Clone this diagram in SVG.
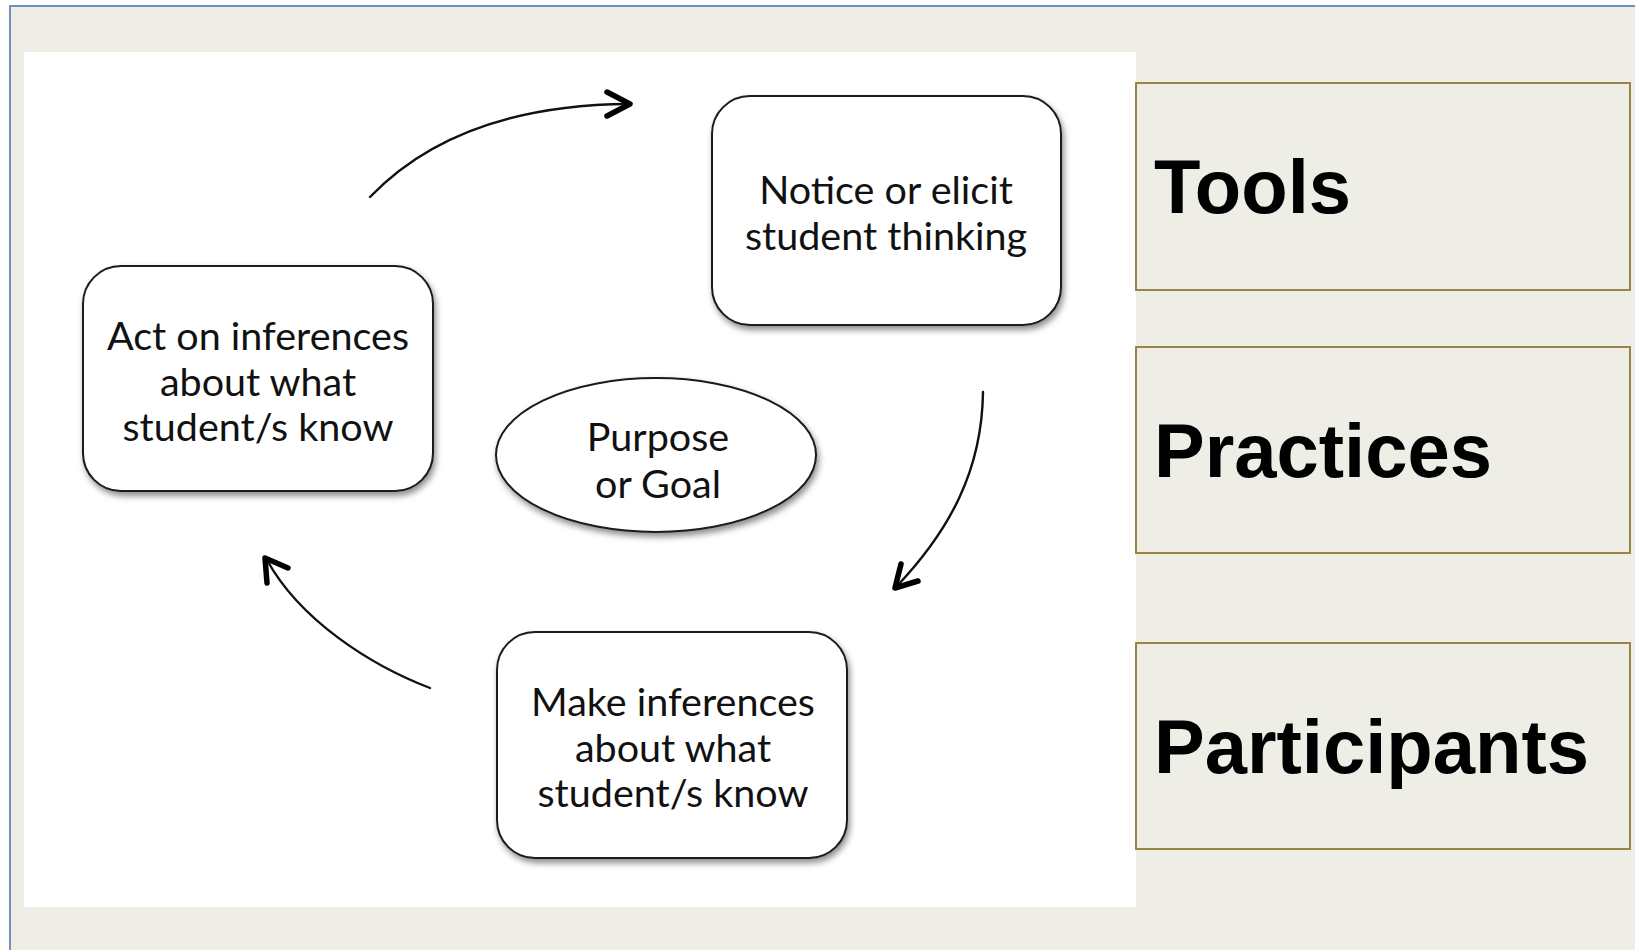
<svg xmlns="http://www.w3.org/2000/svg" width="1635" height="950" viewBox="0 0 1635 950">
  <defs>
    <filter id="shadow" x="-10%" y="-10%" width="125%" height="130%">
      <feDropShadow dx="2" dy="4" stdDeviation="3" flood-color="#000" flood-opacity="0.45"/>
    </filter>
    <style>
      .node { fill: #ffffff; stroke: #1a1a1a; stroke-width: 2; filter: url(#shadow); }
      .label { font-family: Lato, "Open Sans", "Liberation Sans", sans-serif; font-size: 39.5px; fill: #111; text-anchor: middle; }
      .side { fill: none; stroke: #9a8444; stroke-width: 2; }
      .sideText { font-family: "Liberation Sans", Arial, sans-serif; font-weight: bold; font-size: 76px; fill: #000; }
      .curve { fill: none; stroke: #111; stroke-width: 2.4; stroke-linecap: round; }
      .head { fill: none; stroke: #000; stroke-width: 5.5; stroke-linecap: round; stroke-linejoin: round; }
    </style>
  </defs>

  <!-- page and frame -->
  <rect x="0" y="0" width="1635" height="950" fill="#ffffff"/>
  <rect x="10" y="6" width="1640" height="960" fill="#eeede6" stroke="#6f8fbf" stroke-width="2"/>
  <rect x="24" y="52" width="1112" height="855" fill="#ffffff"/>

  <!-- cycle connectors -->
  <g id="connectors">
    <path class="curve" d="M370,197 C420,145 500,105 628,104"/>
    <path class="head" d="M607,92 L630,104 L607,116"/>
    <path class="curve" d="M983,392 C982,470 950,530 897,586"/>
    <path class="head" d="M901,564 L895,588 L918,581"/>
    <path class="curve" d="M430,688 C370,665 300,620 267,560"/>
    <path class="head" d="M267,583 L265,558 L288,568"/>
  </g>

  <g id="notice">
    <rect class="node" x="712" y="96" width="349" height="229" rx="38"/>
    <text class="label" x="886" y="204">Notice or elicit</text>
    <text class="label" x="886" y="250">student thinking</text>
  </g>

  <g id="act">
    <rect class="node" x="83" y="266" width="350" height="225" rx="38"/>
    <text class="label" x="258" y="350">Act on inferences</text>
    <text class="label" x="258" y="396">about what</text>
    <text class="label" x="258" y="441">student/s know</text>
  </g>

  <g id="purpose">
    <ellipse class="node" cx="656" cy="455" rx="160" ry="77"/>
    <text class="label" x="658" y="451">Purpose</text>
    <text class="label" x="658" y="498">or Goal</text>
  </g>

  <g id="make">
    <rect class="node" x="497" y="632" width="350" height="226" rx="38"/>
    <text class="label" x="673" y="716">Make inferences</text>
    <text class="label" x="673" y="762">about what</text>
    <text class="label" x="673" y="807">student/s know</text>
  </g>

  <g id="tools">
    <rect class="side" x="1136" y="83" width="494" height="207"/>
    <text class="sideText" x="1154" y="213">Tools</text>
  </g>

  <g id="practices">
    <rect class="side" x="1136" y="347" width="494" height="206"/>
    <text class="sideText" x="1154" y="477">Practices</text>
  </g>

  <g id="participants">
    <rect class="side" x="1136" y="643" width="494" height="206"/>
    <text class="sideText" x="1154" y="773">Participants</text>
  </g>
</svg>
